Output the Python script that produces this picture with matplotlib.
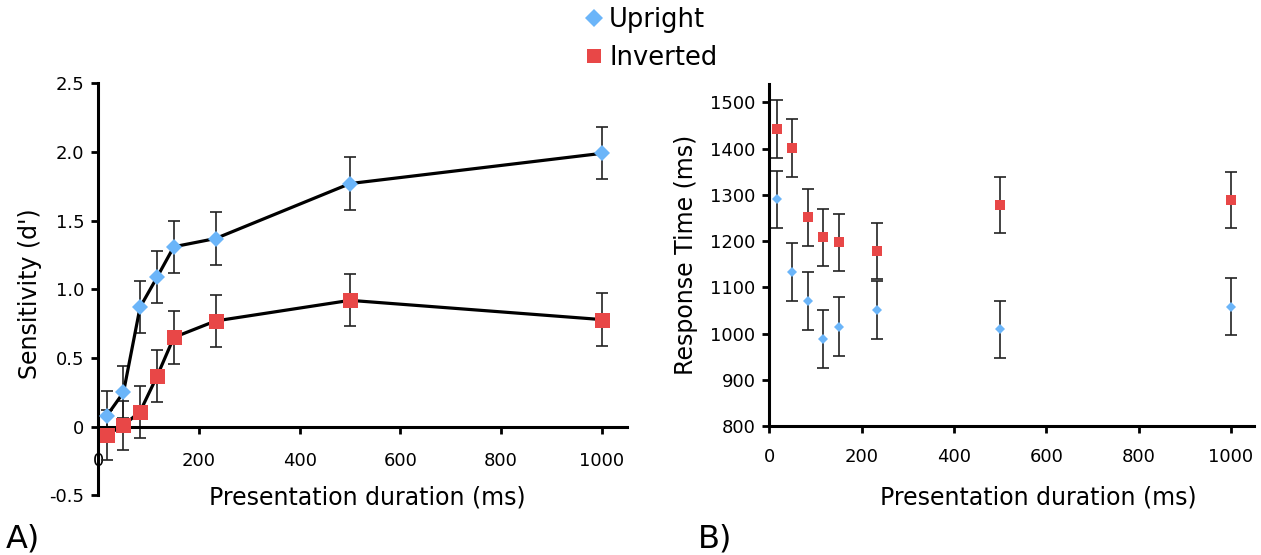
import matplotlib
matplotlib.use("Agg")
import matplotlib.pyplot as plt
from matplotlib.lines import Line2D

# ---- data ----
durations = [17, 50, 83, 117, 150, 233, 500, 1000]
upright_dprime = [0.08, 0.25, 0.87, 1.09, 1.31, 1.37, 1.77, 1.99]
upright_dprime_err = [0.18, 0.19, 0.19, 0.19, 0.19, 0.19, 0.19, 0.19]
inverted_dprime = [-0.06, 0.01, 0.11, 0.37, 0.65, 0.77, 0.92, 0.78]
inverted_dprime_err = [0.18, 0.18, 0.19, 0.19, 0.19, 0.19, 0.19, 0.19]
upright_rt = [1290, 1133, 1070, 988, 1015, 1051, 1009, 1058]
upright_rt_err = [62, 62, 62, 62, 63, 63, 62, 61]
inverted_rt = [1442, 1401, 1251, 1208, 1197, 1178, 1278, 1289]
inverted_rt_err = [63, 62, 61, 61, 62, 61, 61, 61]

left_yticks = [-0.5, 0, 0.5, 1.0, 1.5, 2.0, 2.5]
left_yticklabels = ["-0.5", "0", "0.5", "1.0", "1.5", "2.0", "2.5"]
xticks = [0, 200, 400, 600, 800, 1000]
right_yticks = [800, 900, 1000, 1100, 1200, 1300, 1400, 1500]

BLUE = "#6bb5f9"
RED = "#e84747"
BAR = "#222222"

plt.rcParams["font.family"] = ["DejaVu Sans"]

W, H = 1261, 555
fig = plt.figure(figsize=(W / 100, H / 100), dpi=100)


def fx(px):
    return px / W


def fy(py):
    return 1 - py / H


# ---- panel A ----
axA = fig.add_axes([fx(98.3), fy(495.4), fx(528.6), 412.1 / H])
axA.set_xlim(0, 1050)
axA.set_ylim(-0.5, 2.5)
for s in ["top", "right"]:
    axA.spines[s].set_visible(False)
axA.spines["bottom"].set_position(("data", 0))
for s in ["left", "bottom"]:
    axA.spines[s].set_linewidth(2.2)
axA.errorbar(durations, upright_dprime, yerr=upright_dprime_err, fmt="none",
             ecolor=BAR, elinewidth=1.2, capsize=4.3, capthick=1.2, zorder=2, clip_on=False)
axA.errorbar(durations, inverted_dprime, yerr=inverted_dprime_err, fmt="none",
             ecolor=BAR, elinewidth=1.2, capsize=4.3, capthick=1.2, zorder=2, clip_on=False)
axA.plot(durations, upright_dprime, color="black", lw=2.3, zorder=3, clip_on=False)
axA.plot(durations, inverted_dprime, color="black", lw=2.3, zorder=3, clip_on=False)
axA.plot(durations, upright_dprime, ls="none", marker="D", ms=8.2, mfc=BLUE, mec=BLUE,
         mew=0, zorder=4, clip_on=False)
axA.plot(durations, inverted_dprime, ls="none", marker="s", ms=10.8, mfc=RED, mec=RED,
         mew=0, zorder=4, clip_on=False)
axA.set_yticks(left_yticks)
axA.set_yticklabels(left_yticklabels)
axA.set_xticks(xticks)
axA.set_xticklabels([str(t) for t in xticks])
axA.tick_params(axis="x", direction="out", length=5, width=2, pad=13, labelsize=13)
axA.tick_params(axis="y", direction="out", length=5, width=2, pad=5, labelsize=13)

# ---- panel B ----
axB = fig.add_axes([fx(769.3), fy(426), fx(484.8), 342.2 / H])
axB.set_xlim(0, 1050)
axB.set_ylim(800, 1540)
for s in ["top", "right"]:
    axB.spines[s].set_visible(False)
for s in ["left", "bottom"]:
    axB.spines[s].set_linewidth(2.2)
axB.errorbar(durations, upright_rt, yerr=upright_rt_err, fmt="none",
             ecolor=BAR, elinewidth=1.2, capsize=4, capthick=1.2, zorder=2)
axB.errorbar(durations, inverted_rt, yerr=inverted_rt_err, fmt="none",
             ecolor=BAR, elinewidth=1.2, capsize=4, capthick=1.2, zorder=2)
axB.plot(durations, upright_rt, ls="none", marker="D", ms=5.2, mfc=BLUE, mec=BLUE,
         mew=0, zorder=4)
axB.plot(durations, inverted_rt, ls="none", marker="s", ms=7, mfc=RED, mec=RED,
         mew=0, zorder=4)
axB.set_yticks(right_yticks)
axB.set_xticks(xticks)
axB.tick_params(axis="x", direction="out", length=5, width=2, pad=11, labelsize=13)
axB.tick_params(axis="y", direction="out", length=5, width=2, pad=5, labelsize=13)

# ---- labels ----
fig.text(fx(30), fy(294), "Sensitivity (d')", rotation=90, ha="center", va="center", fontsize=17)
fig.text(fx(367.5), fy(497), "Presentation duration (ms)", ha="center", va="center", fontsize=17)
fig.text(fx(686), fy(255), "Response Time (ms)", rotation=90, ha="center", va="center", fontsize=17)
fig.text(fx(1038.5), fy(497), "Presentation duration (ms)", ha="center", va="center", fontsize=17)
fig.text(fx(6), fy(547), "A)", ha="left", va="baseline", fontsize=23)
fig.text(fx(698), fy(547), "B)", ha="left", va="baseline", fontsize=23)

# ---- legend ----
handles = [
    Line2D([], [], ls="none", marker="D", ms=9, mfc=BLUE, mec=BLUE, mew=0),
    Line2D([], [], ls="none", marker="s", ms=10, mfc=RED, mec=RED, mew=0),
]
fig.legend(handles, ["Upright", "Inverted"], loc="upper left",
           bbox_to_anchor=(fx(586), fy(7)), frameon=False, fontsize=18.5,
           handlelength=0.6, handletextpad=0.3, labelspacing=0.48, borderpad=0,
           borderaxespad=0)

fig.savefig("out.png", dpi=100)
